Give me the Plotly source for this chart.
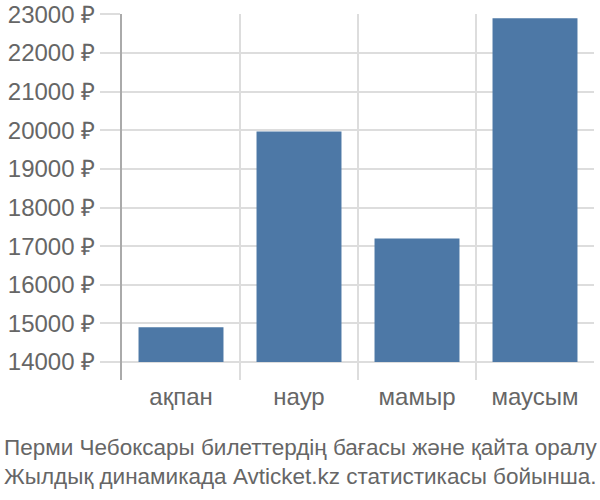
import plotly.graph_objects as go

months = ["ақпан", "наур", "мамыр", "маусым"]
prices = [14900, 19970, 17200, 22900]
y_ticks = [14000, 15000, 16000, 17000, 18000, 19000, 20000, 21000, 22000, 23000]
y_labels = [f"{v} ₽" for v in y_ticks]
caption = ["Перми Чебоксары билеттердің бағасы және қайта оралу",
           "Жылдық динамикада Avticket.kz статистикасы бойынша."]

base = 14000
font = "Liberation Sans"
grey = "#666666"

fig = go.Figure()
fig.add_trace(go.Bar(
    x=months,
    y=[p - base for p in prices],
    base=base,
    marker=dict(color="#4d78a6", line=dict(width=0)),
))

fig.update_layout(
    width=600, height=500,
    margin=dict(l=122, r=6, t=14, b=120),
    paper_bgcolor="white", plot_bgcolor="white",
    bargap=0.28,
    showlegend=False,
    hovermode=False,
    font=dict(family=font, size=24, color=grey),
    xaxis=dict(
        type="category",
        tickson="boundaries",
        showgrid=True, gridcolor="#dddddd", gridwidth=2,
        ticks="", showline=False,
        automargin=False,
        tickfont=dict(size=24, color=grey),
    ),
    yaxis=dict(
        range=[13535, 23010],
        tickvals=y_ticks, ticktext=y_labels,
        showgrid=True, gridcolor="#dddddd", gridwidth=2,
        ticks="outside", ticklen=20, tickcolor="#dddddd", tickwidth=2,
        showline=True, linecolor="#aaaaaa", linewidth=2,
        zeroline=False,
        automargin=False,
        ticklabeloverflow="allow",
        tickfont=dict(size=24, color=grey),
    ),
    annotations=[dict(
        text="<br>".join(caption),
        xref="paper", yref="paper",
        x=-120 / 472, y=-(433 - 380) / 366,
        xanchor="left", yanchor="top",
        align="left", showarrow=False,
        font=dict(family=font, size=22.5, color=grey),
    )],
)

# drop the default 8px page margin so the chart sits at the window corner
fig.write_html(
    "out.html",
    config={"displayModeBar": False, "staticPlot": True},
    post_script="document.body.style.margin = '0';",
)
